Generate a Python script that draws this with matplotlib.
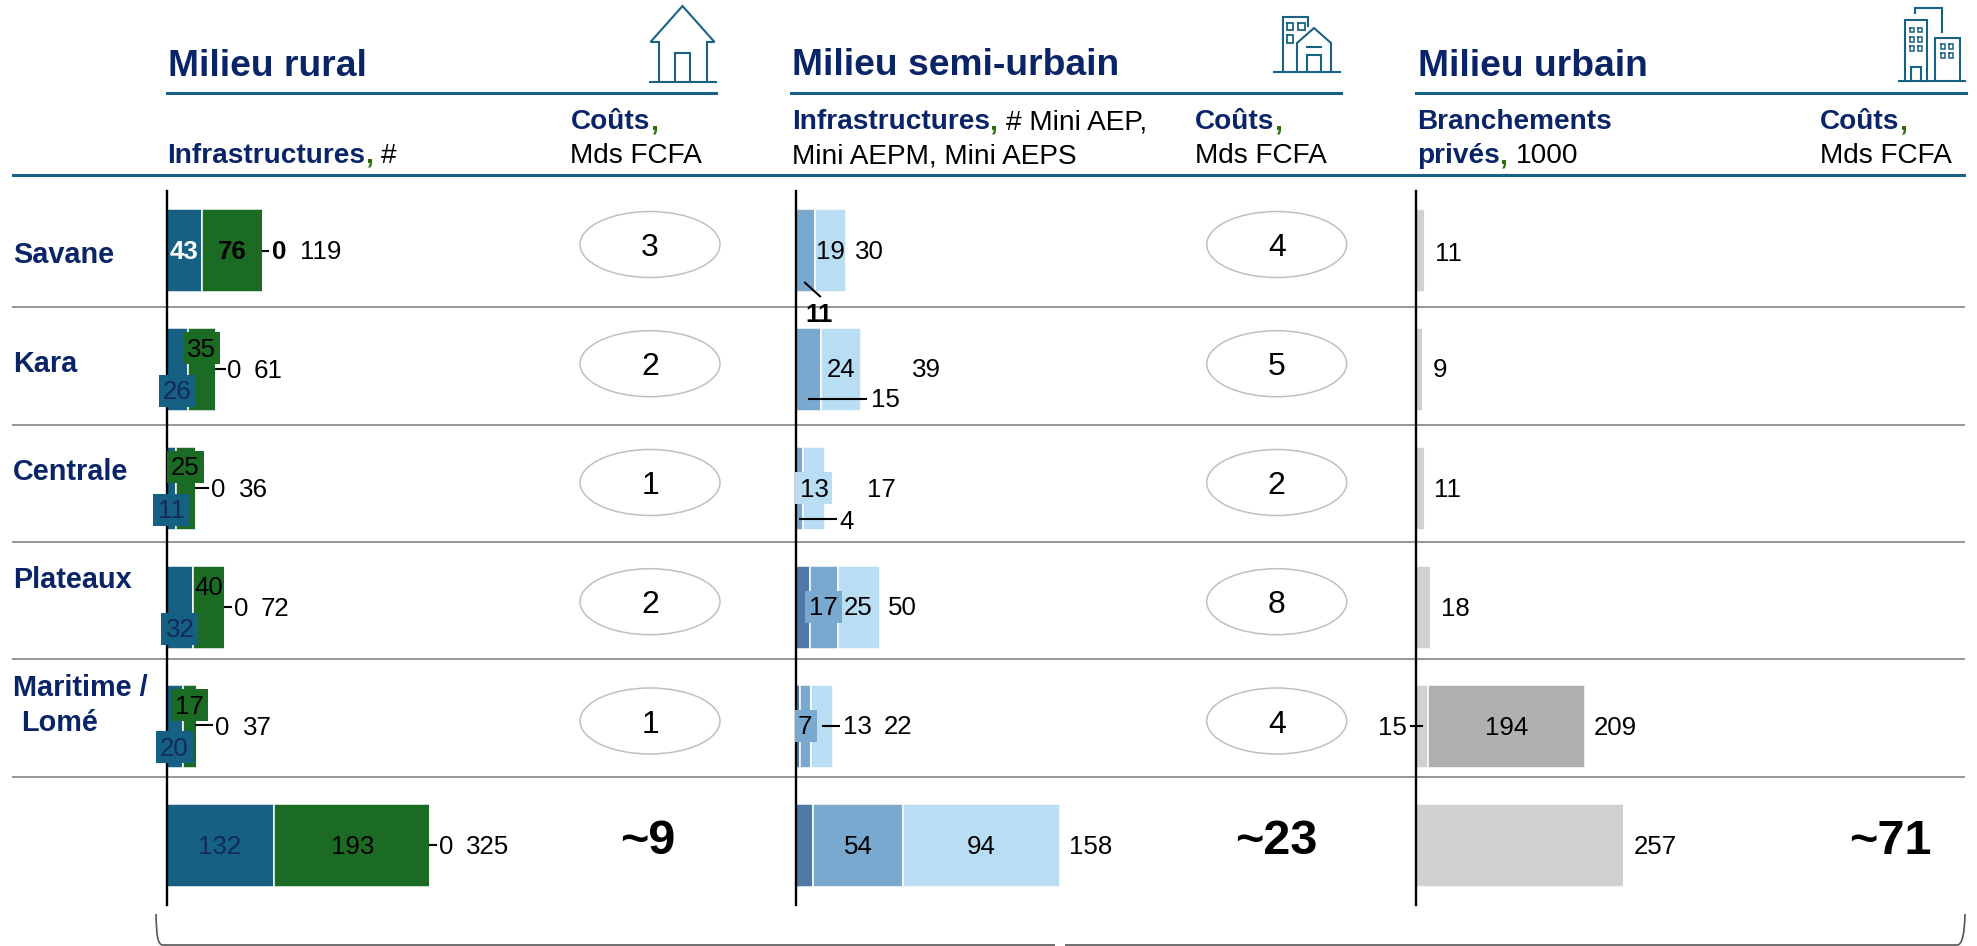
import matplotlib
matplotlib.use("Agg")
from matplotlib import pyplot as plt
from matplotlib.patches import Ellipse, PathPatch, Rectangle
from matplotlib.path import Path
import numpy as np

plt.rcParams["font.family"] = ["Liberation Sans", "DejaVu Sans"]

W, H = 1977, 946

regions = ["Savane", "Kara", "Centrale", "Plateaux", "Maritime /\n Lomé"]
rural_a = [43, 26, 11, 32, 20, 132]
rural_b = [76, 35, 25, 40, 17, 193]
rural_c = [0, 0, 0, 0, 0, 0]
rural_total = [119, 61, 36, 72, 37, 325]
semi_a = [0, 0, 0, 8, 2, 10]
semi_b = [11, 15, 4, 17, 7, 54]
semi_c = [19, 24, 13, 25, 13, 94]
semi_total = [30, 39, 17, 50, 22, 158]
urban_a = [11, 9, 11, 18, 15, 257]
urban_b = [0, 0, 0, 0, 194, 0]
urban_total = [11, 9, 11, 18, 209, 257]
cost_rural = [3, 2, 1, 2, 1]
cost_semi = [4, 5, 2, 8, 4]
cost_labels = ["~9", "~23", "~71"]

NAVY = "#0a2567"
LINE = "#1a6285"
GREEN_C = "#2c6e0c"
BLUE = "#166083"
GREEN = "#1b6b25"
DARK_TXT = "#12295c"

fig = plt.figure(figsize=(W / 100, H / 100), dpi=100)


def pixel_axes(zorder):
    a = fig.add_axes([0, 0, 1, 1], zorder=zorder)
    a.set_xlim(0, W)
    a.set_ylim(H, 0)
    a.axis("off")
    a.patch.set_alpha(0)
    return a


bg = pixel_axes(0)
top = pixel_axes(2)


def panel(x0, px_per_unit, width_px):
    # one axes per block, y goes row by row
    ax = fig.add_axes([x0 / W, 1 - 905 / H, width_px / W, (905 - 191) / H], zorder=1)
    ax.patch.set_alpha(0)
    ax.set_xlim(0, width_px / px_per_unit)
    ax.set_ylim(5.5, -0.5)
    for s in ["top", "right", "bottom"]:
        ax.spines[s].set_visible(False)
    ax.spines["left"].set_linewidth(1.7)
    ax.spines["left"].set_color("black")
    ax.set_xticks([])
    ax.set_yticks([])
    return ax


def stacked(ax, series, colors):
    y = np.arange(6)
    left = np.zeros(6)
    for vals, col in zip(series, colors):
        vals = np.array(vals)
        ax.barh(y, vals, left=left, height=0.705, color=col, edgecolor="white", linewidth=1.1)
        left = left + vals


ax_r = panel(166.7, 0.811, 400)
stacked(ax_r, [rural_a, rural_b, rural_c], [BLUE, GREEN, "#cccccc"])
ax_s = panel(796.3, 1.668, 360)
stacked(ax_s, [semi_a, semi_b, semi_c], ["#4f7aa8", "#7aa9cf", "#b9ddf2"])
ax_u = panel(1416, 0.811, 300)
stacked(ax_u, [urban_a, urban_b], ["#d0d0d0", "#b0b0b0"])

# rules
bg.plot([12.6, 1964], [175, 175], color=LINE, lw=2.2)
for x0, x1 in [(167, 716), (791, 1341), (1416, 1966)]:
    bg.plot([x0, x1], [93, 93], color=LINE, lw=2.2)
for y in [307.5, 425, 542, 659, 776.5]:
    bg.plot([12.6, 1964], [y, y], color="#969696", lw=1.4)


def rich(x, y, parts, size):
    # parts of one line next to each other, baseline at y
    rend = fig.canvas.get_renderer()
    for txt, col, weight in parts:
        t = bg.text(x, y, txt, color=col, fontweight=weight, fontsize=size, va="baseline", ha="left")
        x = t.get_window_extent(rend).x1


TITLE = 26.8
SUB = 20.2
rich(167.7, 76.5, [("Milieu rural", NAVY, "bold")], TITLE)
rich(792, 75, [("Milieu semi-urbain", NAVY, "bold")], TITLE)
rich(1417.6, 76.5, [("Milieu urbain", NAVY, "bold")], TITLE)

rich(167.5, 162.7, [("Infrastructures", NAVY, "bold"), (", ", GREEN_C, "bold"), ("#", "black", "normal")], SUB)
rich(792, 129.3, [("Infrastructures", NAVY, "bold"), (", ", GREEN_C, "bold"), ("# Mini AEP,", "black", "normal")], SUB)
rich(792, 163.3, [("Mini AEPM, Mini AEPS", "black", "normal")], SUB)
rich(1417, 129.3, [("Branchements", NAVY, "bold")], SUB)
rich(1417, 163.3, [("privés", NAVY, "bold"), (", ", GREEN_C, "bold"), ("1000", "black", "normal")], SUB)
for x in [570.5, 1195, 1820]:
    rich(x, 129.3, [("Coûts", NAVY, "bold"), (",", GREEN_C, "bold")], SUB)
    rich(x, 163.3, [("Mds FCFA", "black", "normal")], SUB)

# region names
name_base = [263, 371.7, 479.7, 587.8]
for name, y in zip(regions[:4], name_base):
    rich(13, y, [(name, NAVY, "bold")], 20.8)
first, second = regions[4].split("\n")
rich(13, 695.8, [(first, NAVY, "bold")], 20.8)
rich(21, 731, [(second.strip(), NAVY, "bold")], 20.8)

# cost ellipses
ell_y = [244.5, 363.7, 482.5, 601.7, 721]
for x, costs in [(650, cost_rural), (1276.7, cost_semi)]:
    for y, c in zip(ell_y, costs):
        bg.add_patch(Ellipse((x, y), 140, 66, fc="white", ec="#c0c0c0", lw=1.1))
        bg.text(x, y + 3.5, str(c), fontsize=23, ha="center", va="center", color="black")
for x, c in zip([648, 1276, 1890.6], cost_labels):
    bg.text(x, 841, c, fontsize=35, fontweight="bold", ha="center", va="center", color="black")

VAL = 18.6


def lab(x, y, v, color="black", weight="normal"):
    top.text(x, y + 1, str(v), fontsize=VAL, color=color, fontweight=weight, ha="center", va="center")


def boxed(x0, x1, y0, y1, v, tx, ty, fill, color):
    top.add_patch(Rectangle((x0, y0), x1 - x0, y1 - y0, fc=fill, ec="none"))
    lab(tx, ty, v, color)


def lead(x0, y0, x1, y1, lw=1.5):
    top.plot([x0, x1], [y0, y1], color="black", lw=lw)


# rural labels
lab(184, 251, rural_a[0], "white", "bold")
lab(232.7, 251, rural_b[0], "black", "bold")
lab(278.7, 251, rural_c[0], "black", "bold")
lab(321, 251, rural_total[0])
lead(263, 251, 268, 251)

boxed(183, 220, 332, 364, rural_b[1], 201.6, 349, GREEN, "black")
boxed(159, 196, 375, 406.7, rural_a[1], 177, 391, BLUE, DARK_TXT)
lab(234.6, 370, rural_c[1])
lab(268, 370, rural_total[1])
lead(215.7, 369, 225, 369)

boxed(167, 204, 451, 483, rural_b[2], 185.6, 467, GREEN, "black")
boxed(153, 190, 494, 525.7, rural_a[2], 171.7, 510, BLUE, DARK_TXT)
lab(218.6, 489, rural_c[2])
lab(253, 489, rural_total[2])
lead(196, 488, 207.5, 488)

lab(208.4, 587, rural_b[3])
boxed(161, 198, 613, 645, rural_a[3], 180, 629, BLUE, DARK_TXT)
lab(241, 607.6, rural_c[3])
lab(275, 607.6, rural_total[3])
lead(225, 607, 231, 607)

boxed(171, 208, 689, 721, rural_b[4], 189.5, 705.6, GREEN, "black")
boxed(156, 193, 731, 762.6, rural_a[4], 174.5, 748, BLUE, DARK_TXT)
lab(222.5, 726.7, rural_c[4])
lab(257, 726.7, rural_total[4])
lead(196, 725, 212, 725)

lab(220, 845.5, rural_a[5], DARK_TXT)
lab(352.4, 845.5, rural_b[5])
lab(446.4, 845.5, rural_c[5])
lab(487.6, 845.5, rural_total[5])
lead(430, 845, 436, 845)

# semi-urban labels
lab(830, 251, semi_c[0])
lab(869.4, 251, semi_total[0])
lead(805, 282.7, 820, 296.3)
lab(819, 314, semi_b[0], "black", "bold")

lab(841, 369.3, semi_c[1])
lab(926.5, 369.3, semi_total[1])
lab(885, 399.3, semi_b[1])
lead(809, 398.7, 866, 398.7)

boxed(795, 832, 472, 504, semi_c[2], 814, 488.8, "#b9ddf2", "black")
lab(881, 488.8, semi_total[2])
lab(847, 520.7, semi_b[2])
lead(799.6, 519.3, 836, 519.3)

boxed(805, 842, 591, 623, semi_b[3], 823.7, 607, "#7aa9cf", "black")
lab(858, 607, semi_c[3])
lab(902.4, 607, semi_total[3])

boxed(795, 817, 710, 742, semi_b[4], 805, 726.4, "#7aa9cf", "black")
lab(857, 726.4, semi_c[4])
lab(898.4, 726.4, semi_total[4])
lead(823, 725.7, 839, 725.7)

lab(858, 845.5, semi_b[5])
lab(981.6, 845.5, semi_c[5])
lab(1090.6, 845.5, semi_total[5])

# urban labels
for x, y, v in zip([1448, 1440, 1447.4, 1455], [253, 369.4, 489, 607.7], urban_total[:4]):
    lab(x, y, v)
lab(1392, 726.7, urban_a[4])
lead(1410.7, 726, 1422, 726)
lab(1507, 726.7, urban_b[4])
lab(1615.4, 726.7, urban_total[4])
lab(1655.6, 845.7, urban_total[5])

# bottom brace
verts = [(156, 914), (156.5, 935), (157.5, 945), (163, 945), (1055, 945)]
codes = [Path.MOVETO, Path.CURVE4, Path.CURVE4, Path.CURVE4, Path.LINETO]
bg.add_patch(PathPatch(Path(verts, codes), fc="none", ec="#555555", lw=1.2))
verts = [(1065, 945), (1957, 945), (1962, 945), (1964.5, 935), (1965, 914)]
codes = [Path.MOVETO, Path.LINETO, Path.CURVE4, Path.CURVE4, Path.CURVE4]
bg.add_patch(PathPatch(Path(verts, codes), fc="none", ec="#555555", lw=1.2))


# icons
def icon(pts, lw=1.5):
    xs, ys = zip(*pts)
    bg.plot(xs, ys, color=LINE, lw=lw, solid_joinstyle="miter")


def square(x0, x1, y0, y1, lw=1.3):
    icon([(x0, y0), (x1, y0), (x1, y1), (x0, y1), (x0, y0)], lw)


# house
icon([(649.5, 82), (715.5, 82)])
icon([(659, 82), (659, 42), (650.5, 42), (682.5, 6), (714.5, 42), (707, 42), (707, 82)])
icon([(675, 82), (675, 53), (690, 53), (690, 82)])

# semi-urban
icon([(1274, 72), (1339.6, 72)])
icon([(1282.8, 72), (1282.8, 16.7), (1308, 16.7), (1308, 26)])
icon([(1297, 72), (1297, 43), (1314, 28), (1331, 43), (1331, 72)])
square(1286.5, 1293, 22.7, 30)
square(1298, 1305, 22.7, 30)
square(1286.5, 1293, 35, 42.7)
icon([(1307, 72), (1307, 55), (1321, 55), (1321, 72)])
icon([(1307, 47), (1321, 47)])

# urban
icon([(1899.4, 81), (1964.5, 81)])
icon([(1904.8, 81), (1904.8, 20), (1927, 20), (1927, 81)])
icon([(1935, 81), (1935, 37.7), (1959.5, 37.7), (1959.5, 81)])
icon([(1914.7, 13), (1914.7, 7.7), (1941.5, 7.7), (1941.5, 31.7)])
for wx in [(1909.7, 1914), (1918, 1922.3)]:
    for wy in [(27.7, 32.3), (37, 41.7), (46.3, 51)]:
        square(wx[0], wx[1], wy[0], wy[1], 1.1)
for wx in [(1940.7, 1945), (1949, 1953.3)]:
    for wy in [(44, 48.7), (53.3, 58)]:
        square(wx[0], wx[1], wy[0], wy[1], 1.1)
icon([(1911, 81), (1911, 66.7), (1920.5, 66.7), (1920.5, 81)])

fig.savefig("out.png", dpi=100)
